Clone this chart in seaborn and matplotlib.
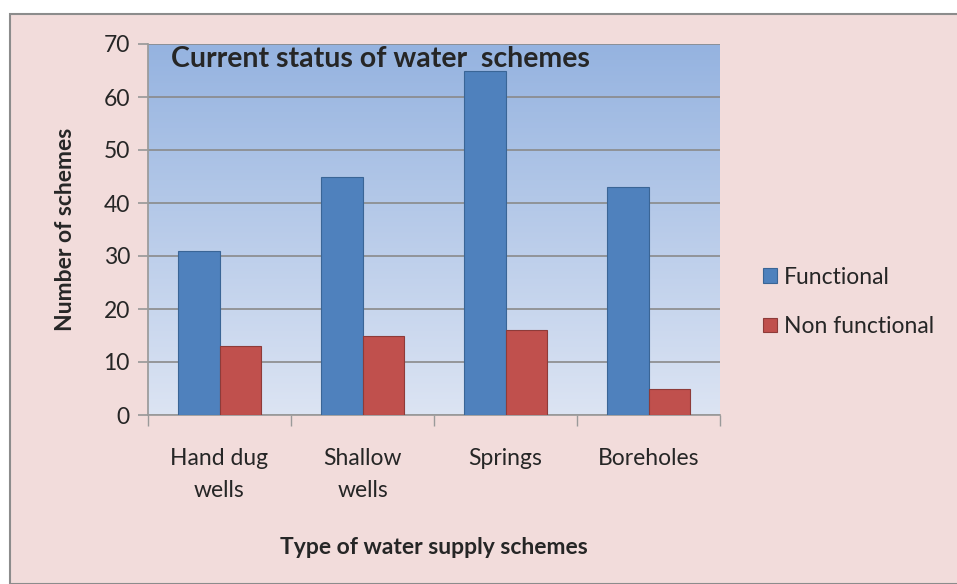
import numpy as np
import pandas as pd
import matplotlib
matplotlib.use("Agg")
import matplotlib.pyplot as plt
from matplotlib.patches import Rectangle
from matplotlib.colors import LinearSegmentedColormap
import seaborn as sns

categories = ["Hand dug\nwells", "Shallow\nwells", "Springs", "Boreholes"]
functional = [31, 45, 65, 43]
non_functional = [13, 15, 16, 5]
series = ["Functional", "Non functional"]

df = pd.DataFrame({
    "type": categories * 2,
    "count": functional + non_functional,
    "status": [series[0]] * 4 + [series[1]] * 4,
})

sns.set_theme(style="white")
plt.rcParams["font.family"] = ["Lato", "DejaVu Sans"]

pink = "#F2DCDB"
fig = plt.figure(figsize=(9.57, 5.84), dpi=100)
fig.patch.set_facecolor("white")
fig.patches.append(Rectangle((10 / 957, 0), 1, 1 - 14 / 584, transform=fig.transFigure,
                             facecolor=pink, edgecolor="#8c8c8c", linewidth=1.5, zorder=-5))

ax = fig.add_axes([148 / 957, 1 - 415 / 584, (720 - 148) / 957, (415 - 44) / 584])
ax.set_facecolor("none")

# gradient plot area
grad = LinearSegmentedColormap.from_list("g", ["#DCE4F3", "#95B3E0"])
ax.imshow(np.linspace(0, 1, 256).reshape(-1, 1), cmap=grad, origin="lower",
          extent=[0, 1, 0, 1], transform=ax.transAxes, aspect="auto", zorder=0)

sns.barplot(data=df, x="type", y="count", hue="status", palette=["#4F81BD", "#C0504D"],
            width=0.58, gap=0, ax=ax, zorder=3, saturation=1)
for bar in ax.patches:
    bar.set_edgecolor("#3A6596" if bar.get_facecolor()[2] > 0.5 else "#8E3B39")
    bar.set_linewidth(0.8)

ax.set_xlim(-0.5, 3.5)
ax.set_ylim(0, 70)
ax.set_yticks(range(0, 71, 10))
ax.yaxis.grid(True, color="#8a8a8a", linewidth=1.2, zorder=1)
ax.set_axisbelow(True)
for s in ["top", "right"]:
    ax.spines[s].set_visible(False)
ax.spines["left"].set_color("#9a9a9a")
ax.spines["bottom"].set_color("#9a9a9a")
ax.tick_params(axis="y", length=7, color="#9a9a9a", labelsize=16.5, pad=6, left=True)
ax.tick_params(axis="x", which="major", length=0, labelsize=16.5, pad=24)
ax.set_xticks(np.arange(-0.5, 4, 1), minor=True)
ax.tick_params(axis="x", which="minor", length=8, color="#9a9a9a", bottom=True)
ax.set_xticklabels(categories, linespacing=1.6)

ax.set_xlabel("Type of water supply schemes", fontsize=16.5, fontweight="bold", labelpad=26)
ax.set_ylabel("Number of schemes", fontsize=16.5, fontweight="bold", labelpad=20)
ax.text(0.04, 0.995, "Current status of water  schemes", transform=ax.transAxes,
        fontsize=20.5, fontweight="bold", va="top", ha="left", zorder=5)

ax.legend(loc="center left", bbox_to_anchor=(1.06, 0.305), frameon=False, fontsize=16.5,
          handlelength=0.6, handleheight=0.6, labelspacing=1.25, handletextpad=0.3,
          borderaxespad=0, title=None)

fig.savefig("out.png", dpi=100, facecolor=fig.get_facecolor())
